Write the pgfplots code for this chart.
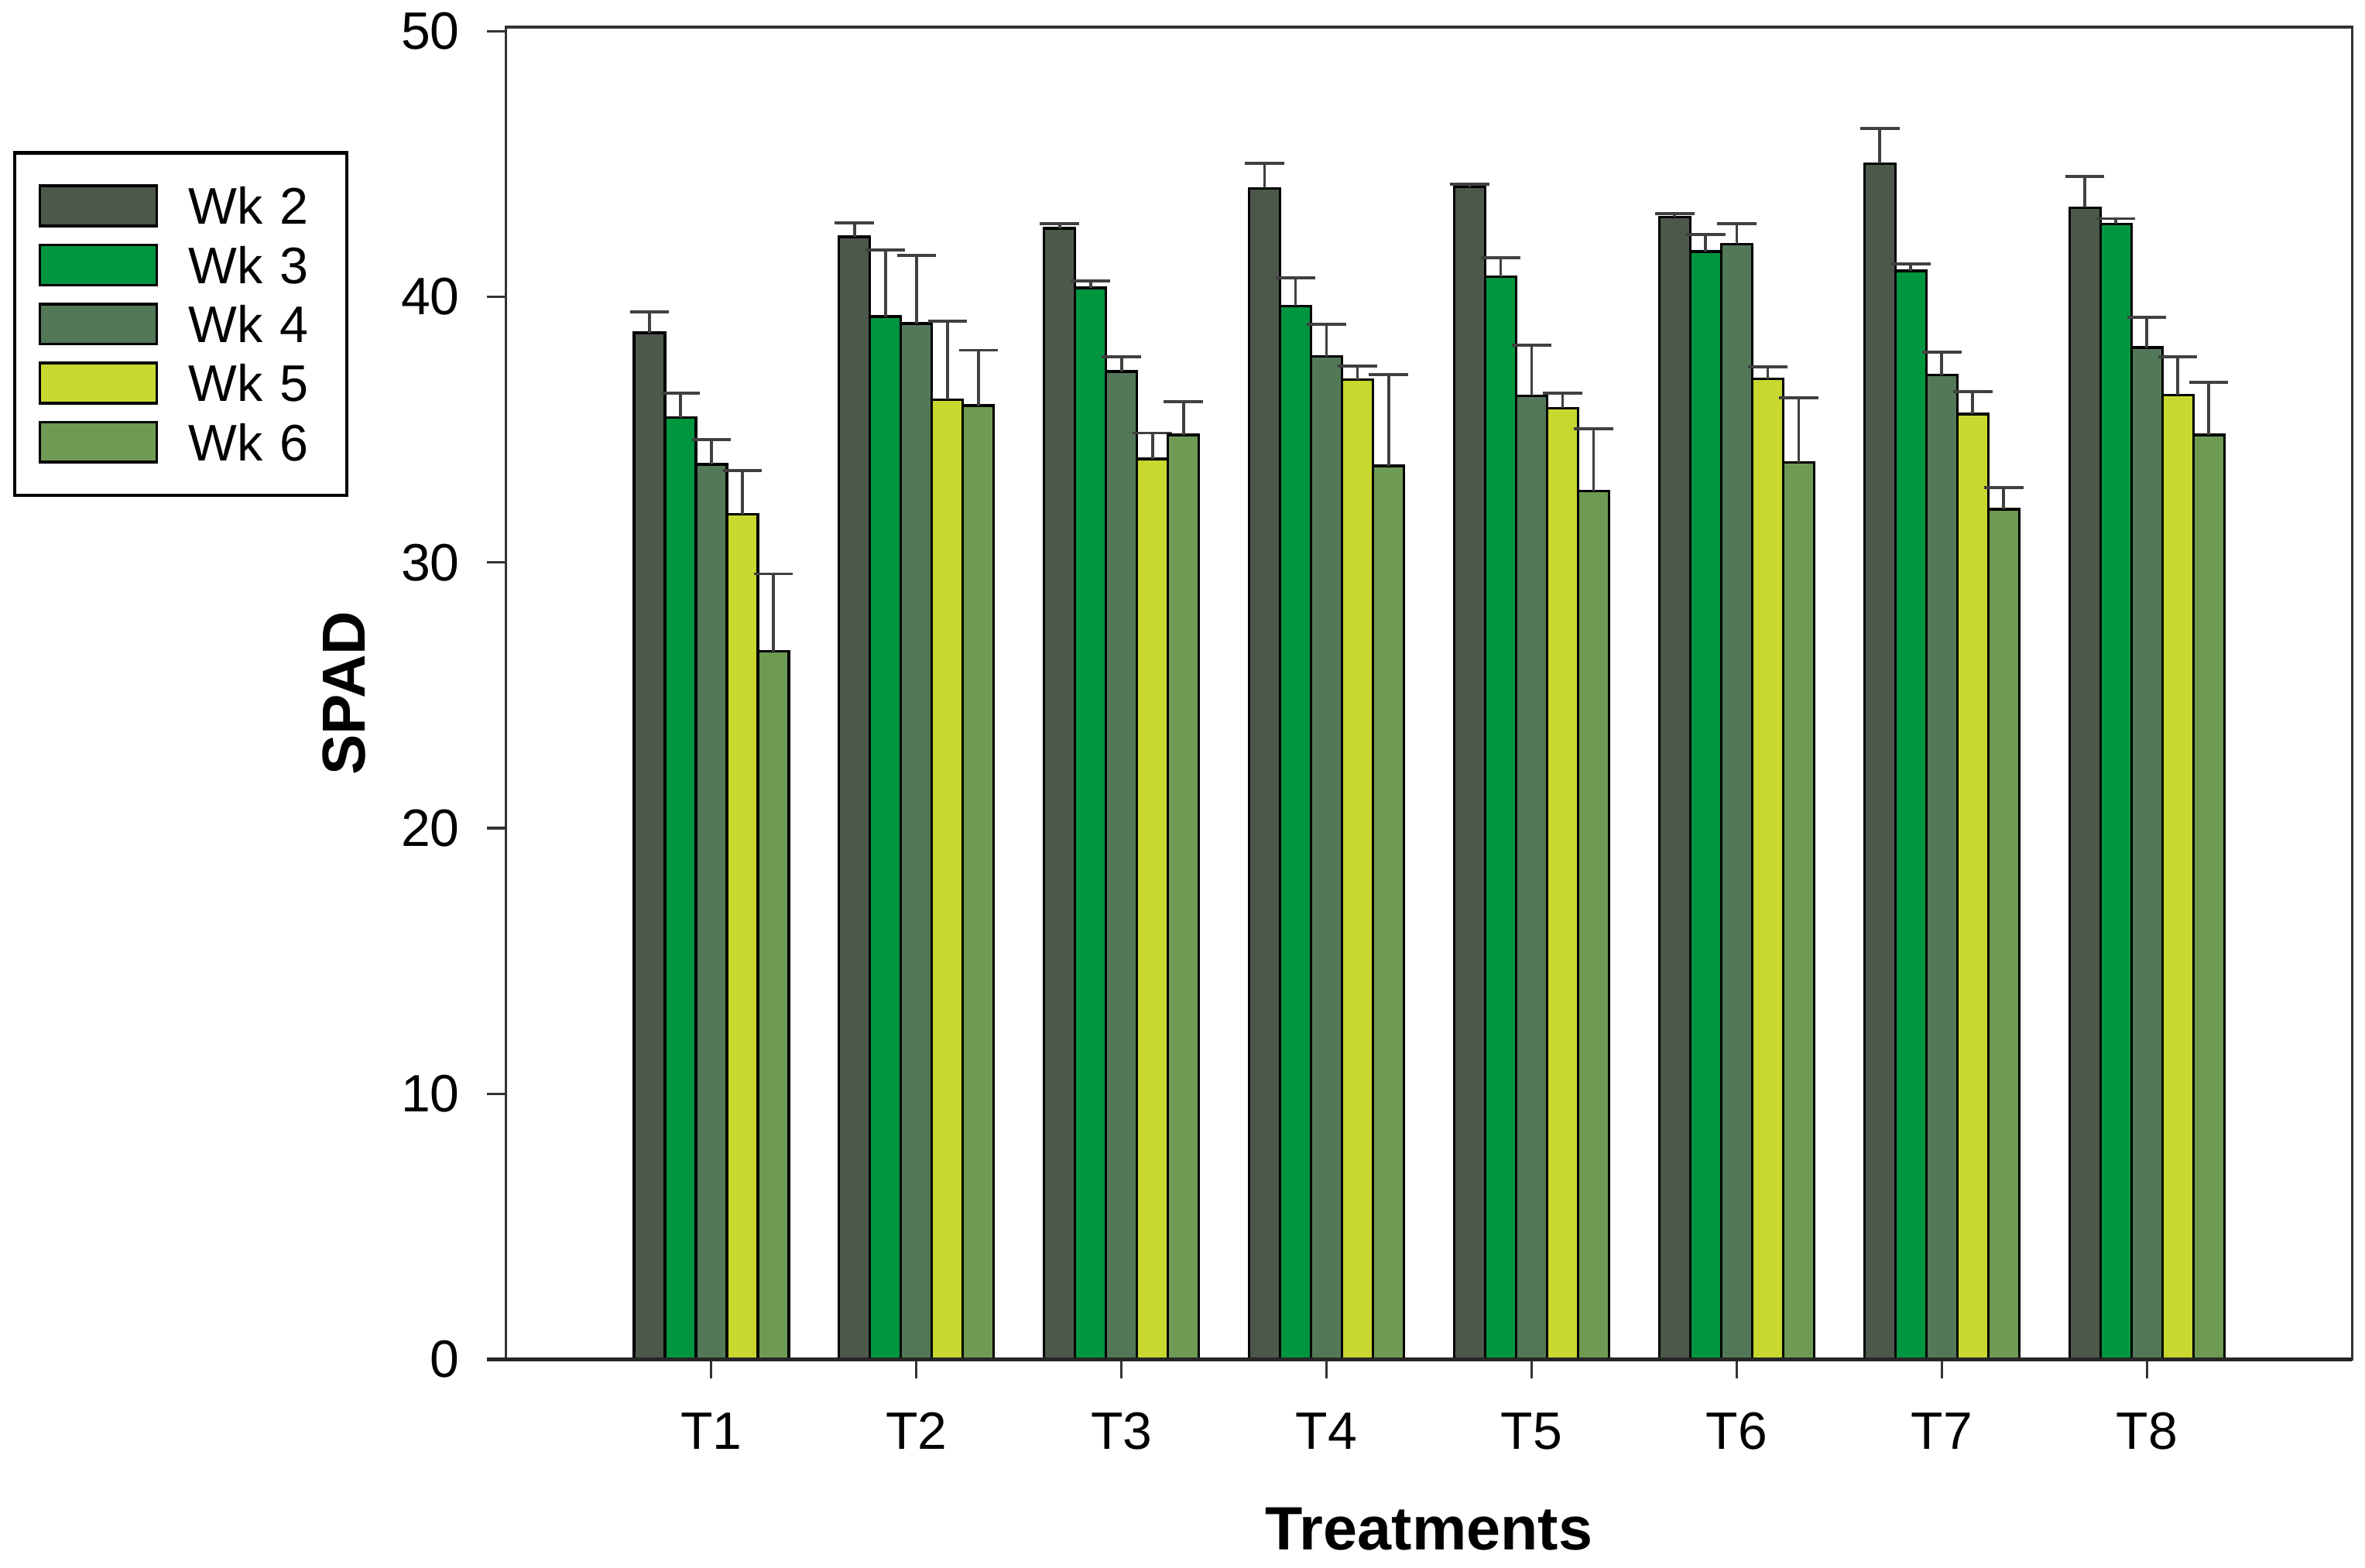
\documentclass[border=0pt]{standalone}
\usepackage{fontspec}
\setmainfont{Liberation Sans}
\usepackage{pgfplots}
\usepackage{pgfplotstable}
\pgfplotsset{compat=1.18}

\definecolor{wktwo}{RGB}{76,88,74}
\definecolor{wkthree}{RGB}{0,150,64}
\definecolor{wkfour}{RGB}{83,120,88}
\definecolor{wkfive}{RGB}{201,216,46}
\definecolor{wksix}{RGB}{110,154,84}

% SPAD means and upper error per week, treatments T1..T8
\pgfplotstableread{
x  w2    e2   w3    e3   w4    e4   w5    e5   w6    e6
1  38.64 0.78 35.45 0.91 33.69 0.94 31.81 1.65 26.65 2.92
2  42.25 0.52 39.25 2.51 38.99 2.56 36.13 2.95 35.90 2.09
3  42.58 0.16 40.33 0.26 37.18 0.57 33.89 0.98 34.80 1.26
4  44.08 0.94 39.65 1.07 37.75 1.21 36.88 0.52 33.63 3.45
5  44.13 0.10 40.75 0.73 36.27 1.90 35.81 0.57 32.68 2.34
6  43.00 0.13 41.70 0.65 41.98 0.76 36.91 0.46 33.76 2.43
7  45.01 1.33 40.98 0.26 37.05 0.87 35.58 0.85 32.00 0.82
8  43.35 1.18 42.74 0.20 38.09 1.13 36.30 1.45 34.80 1.98
}\spad

\pgfplotsset{
  wkleg/.style={legend image code/.code={\draw[##1,line width=0.5pt] (0pt,-3.7pt) rectangle (21.6pt,3.7pt);}},
}

\begin{document}
\begin{tikzpicture}
\begin{axis}[
  width=340.6pt, height=245.9pt, scale only axis,
  xmin=0, xmax=9, ymin=0, ymax=50.15,
  ybar=0pt, bar width=0.151,
  xtick={1,...,8}, xticklabels={T1,T2,T3,T4,T5,T6,T7,T8},
  ytick={0,10,...,50},
  tick pos=left, tick align=outside, major tick length=3.5pt,
  tick style={black!80, line width=0.45pt},
  axis line style={black!80, line width=0.45pt},
  ticklabel style={font=\fontsize{9.7}{11}\selectfont},
  /pgf/number format/assume math mode=true,
  xticklabel style={anchor=base, yshift=-13pt},
  yticklabel style={anchor=east, inner sep=0pt, xshift=-4.9pt},
  xlabel={Treatments},
  xlabel style={font=\bfseries\fontsize{11.3}{13}\selectfont, at={(axis description cs:0.5,-0.1427)}, anchor=base, inner sep=0pt},
  ylabel={SPAD},
  ylabel style={font=\bfseries\fontsize{11.2}{13}\selectfont, at={(axis description cs:-0.088,0.5)}, anchor=center, inner sep=0pt},
  every axis plot/.append style={draw=black, line width=0.5pt,
    /pgfplots/error bars/y dir=plus,
    /pgfplots/error bars/y explicit,
    /pgfplots/error bars/error mark=|,
    /pgfplots/error bars/error bar style={line width=0.55pt, black!75},
    /pgfplots/error bars/error mark options={mark size=3.6pt, line width=0.55pt, black!75}},
  legend style={at={(rel axis cs:0,1)}, anchor=north west, xshift=-91pt, yshift=-22.9pt,
    draw=black, line width=0.6pt, fill=white,
    font=\fontsize{9.5}{11}\selectfont,
    inner xsep=4.4pt, inner ysep=4.35pt, row sep=0pt,
    nodes={inner xsep=0pt, inner ysep=0.65pt, text height=8.2pt, text depth=1.4pt, text width=24.8pt, align=left},
    /tikz/every odd column/.style={column sep=5.6pt}},
  legend cell align=left,
]
\addplot[fill=wktwo, wkleg] table[x=x, y=w2, y error=e2] {\spad};
\addlegendentry{Wk 2}
\addplot[fill=wkthree, wkleg] table[x=x, y=w3, y error=e3] {\spad};
\addlegendentry{Wk 3}
\addplot[fill=wkfour, wkleg] table[x=x, y=w4, y error=e4] {\spad};
\addlegendentry{Wk 4}
\addplot[fill=wkfive, wkleg] table[x=x, y=w5, y error=e5] {\spad};
\addlegendentry{Wk 5}
\addplot[fill=wksix, wkleg] table[x=x, y=w6, y error=e6] {\spad};
\addlegendentry{Wk 6}
\end{axis}
\draw[black!85, line width=0.65pt] ([xshift=-3.5pt]current axis.south west) -- (current axis.south east);
\path ([shift={(-93.4pt,-38.4pt)}]current axis.south west) rectangle ([shift={(2.4pt,5pt)}]current axis.north east);
\end{tikzpicture}
\end{document}
